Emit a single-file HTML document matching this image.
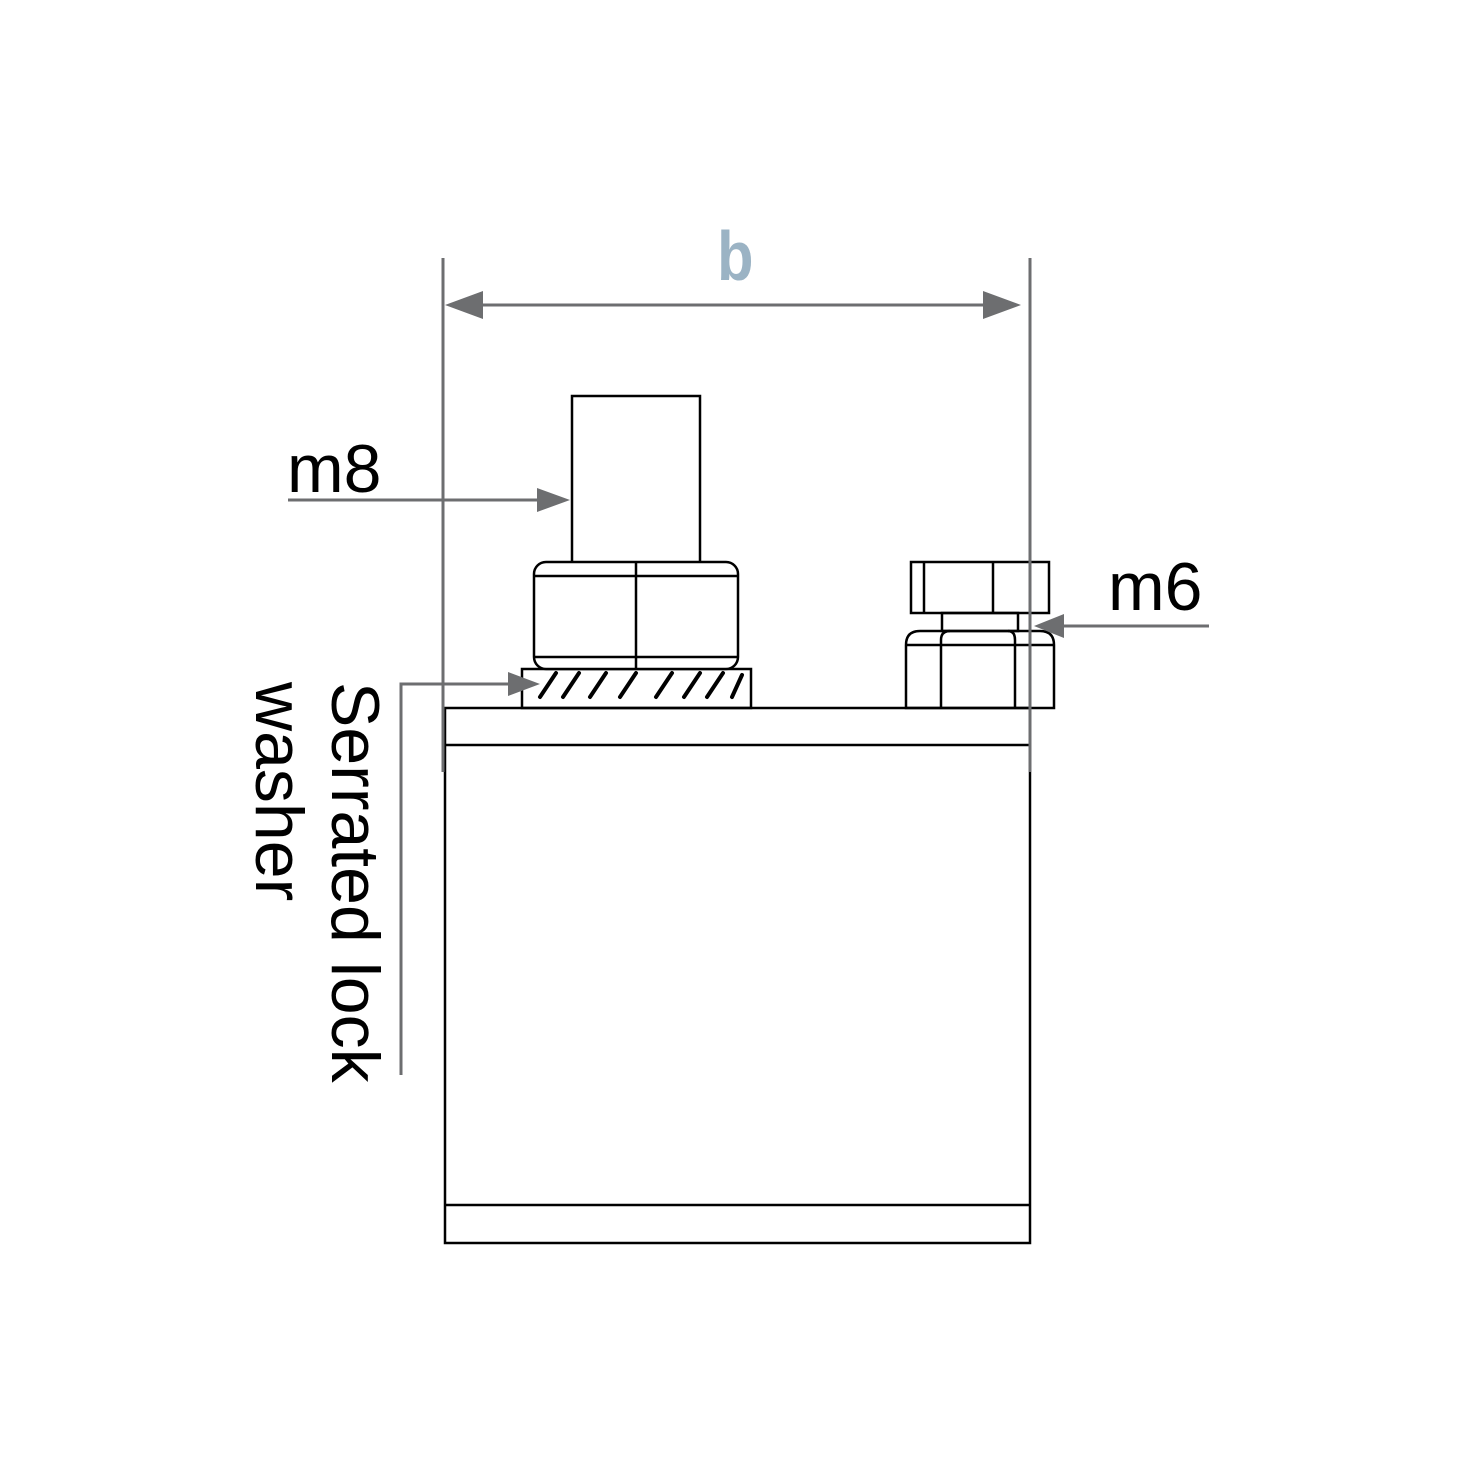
<!DOCTYPE html>
<html><head><style>body{margin:0;background:#fff}</style></head><body>
<svg width="1469" height="1469" viewBox="0 0 1469 1469" xmlns="http://www.w3.org/2000/svg">
<g fill="none" stroke="#000" stroke-width="2.5">
<rect x="445" y="708" width="585" height="535"/>
<line x1="445" y1="745" x2="1030" y2="745"/>
<line x1="445" y1="1205" x2="1030" y2="1205"/>
<rect x="572" y="396" width="128" height="168"/>
<rect x="522" y="669" width="229" height="39"/>
<rect x="534" y="562" width="204" height="107" rx="12" fill="#fff"/>
<line x1="534" y1="576" x2="738" y2="576"/>
<line x1="534" y1="657" x2="738" y2="657"/>
<line x1="636" y1="562" x2="636" y2="669"/>
<rect x="911" y="562" width="138" height="51"/>
<line x1="924" y1="562" x2="924" y2="613"/>
<line x1="993" y1="562" x2="993" y2="613"/>
<rect x="942" y="613" width="76" height="18"/>
<path d="M906 708 V645 Q906 631 920 631 H1040 Q1054 631 1054 645 V708 Z"/>
<line x1="906" y1="645" x2="1054" y2="645"/>
<path d="M941 708 V640 Q941 631 950 631"/>
<path d="M1015 708 V640 Q1015 631 1008 631"/>
</g>
<g stroke="#000" stroke-width="4" stroke-linecap="round">
<line x1="540" y1="697" x2="556" y2="673"/><line x1="563" y1="697" x2="579" y2="673"/>
<line x1="590" y1="697" x2="606" y2="673"/><line x1="620" y1="697" x2="636" y2="673"/>
<line x1="656" y1="697" x2="672" y2="673"/><line x1="684" y1="697" x2="700" y2="673"/>
<line x1="707" y1="697" x2="723" y2="673"/><line x1="732" y1="697" x2="742" y2="675"/>
</g>
<g stroke="#6d6e70" stroke-width="3" fill="none">
<line x1="443" y1="258" x2="443" y2="772"/>
<line x1="1030" y1="258" x2="1030" y2="772"/>
<line x1="470" y1="305" x2="1005" y2="305"/>
<line x1="288" y1="500" x2="548" y2="500"/>
<line x1="1060" y1="626" x2="1209" y2="626"/>
<polyline points="401,1075 401,684 515,684"/>
</g>
<g fill="#6d6e70">
<polygon points="445,305 483,291 483,319"/>
<polygon points="1021,305 983,291 983,319"/>
<polygon points="570,500 537,488 537,512"/>
<polygon points="1034,626 1064,614 1064,638"/>
<polygon points="540,684 508,672 508,696"/>
</g>
<text x="735" y="280" font-family="Liberation Sans Narrow, Liberation Sans, sans-serif" font-weight="bold" font-size="70" fill="#9bb3c4" text-anchor="middle" transform="scale(0.85,1) translate(130,0)">b</text>
<g font-family="Liberation Sans, sans-serif" font-size="68" fill="#000">
<text x="287" y="492">m8</text>
<text x="1108" y="610">m6</text>
<text transform="translate(332,682) rotate(90)">Serrated lock</text>
<text transform="translate(256,682) rotate(90)">washer</text>
</g>
</svg>
</body></html>
